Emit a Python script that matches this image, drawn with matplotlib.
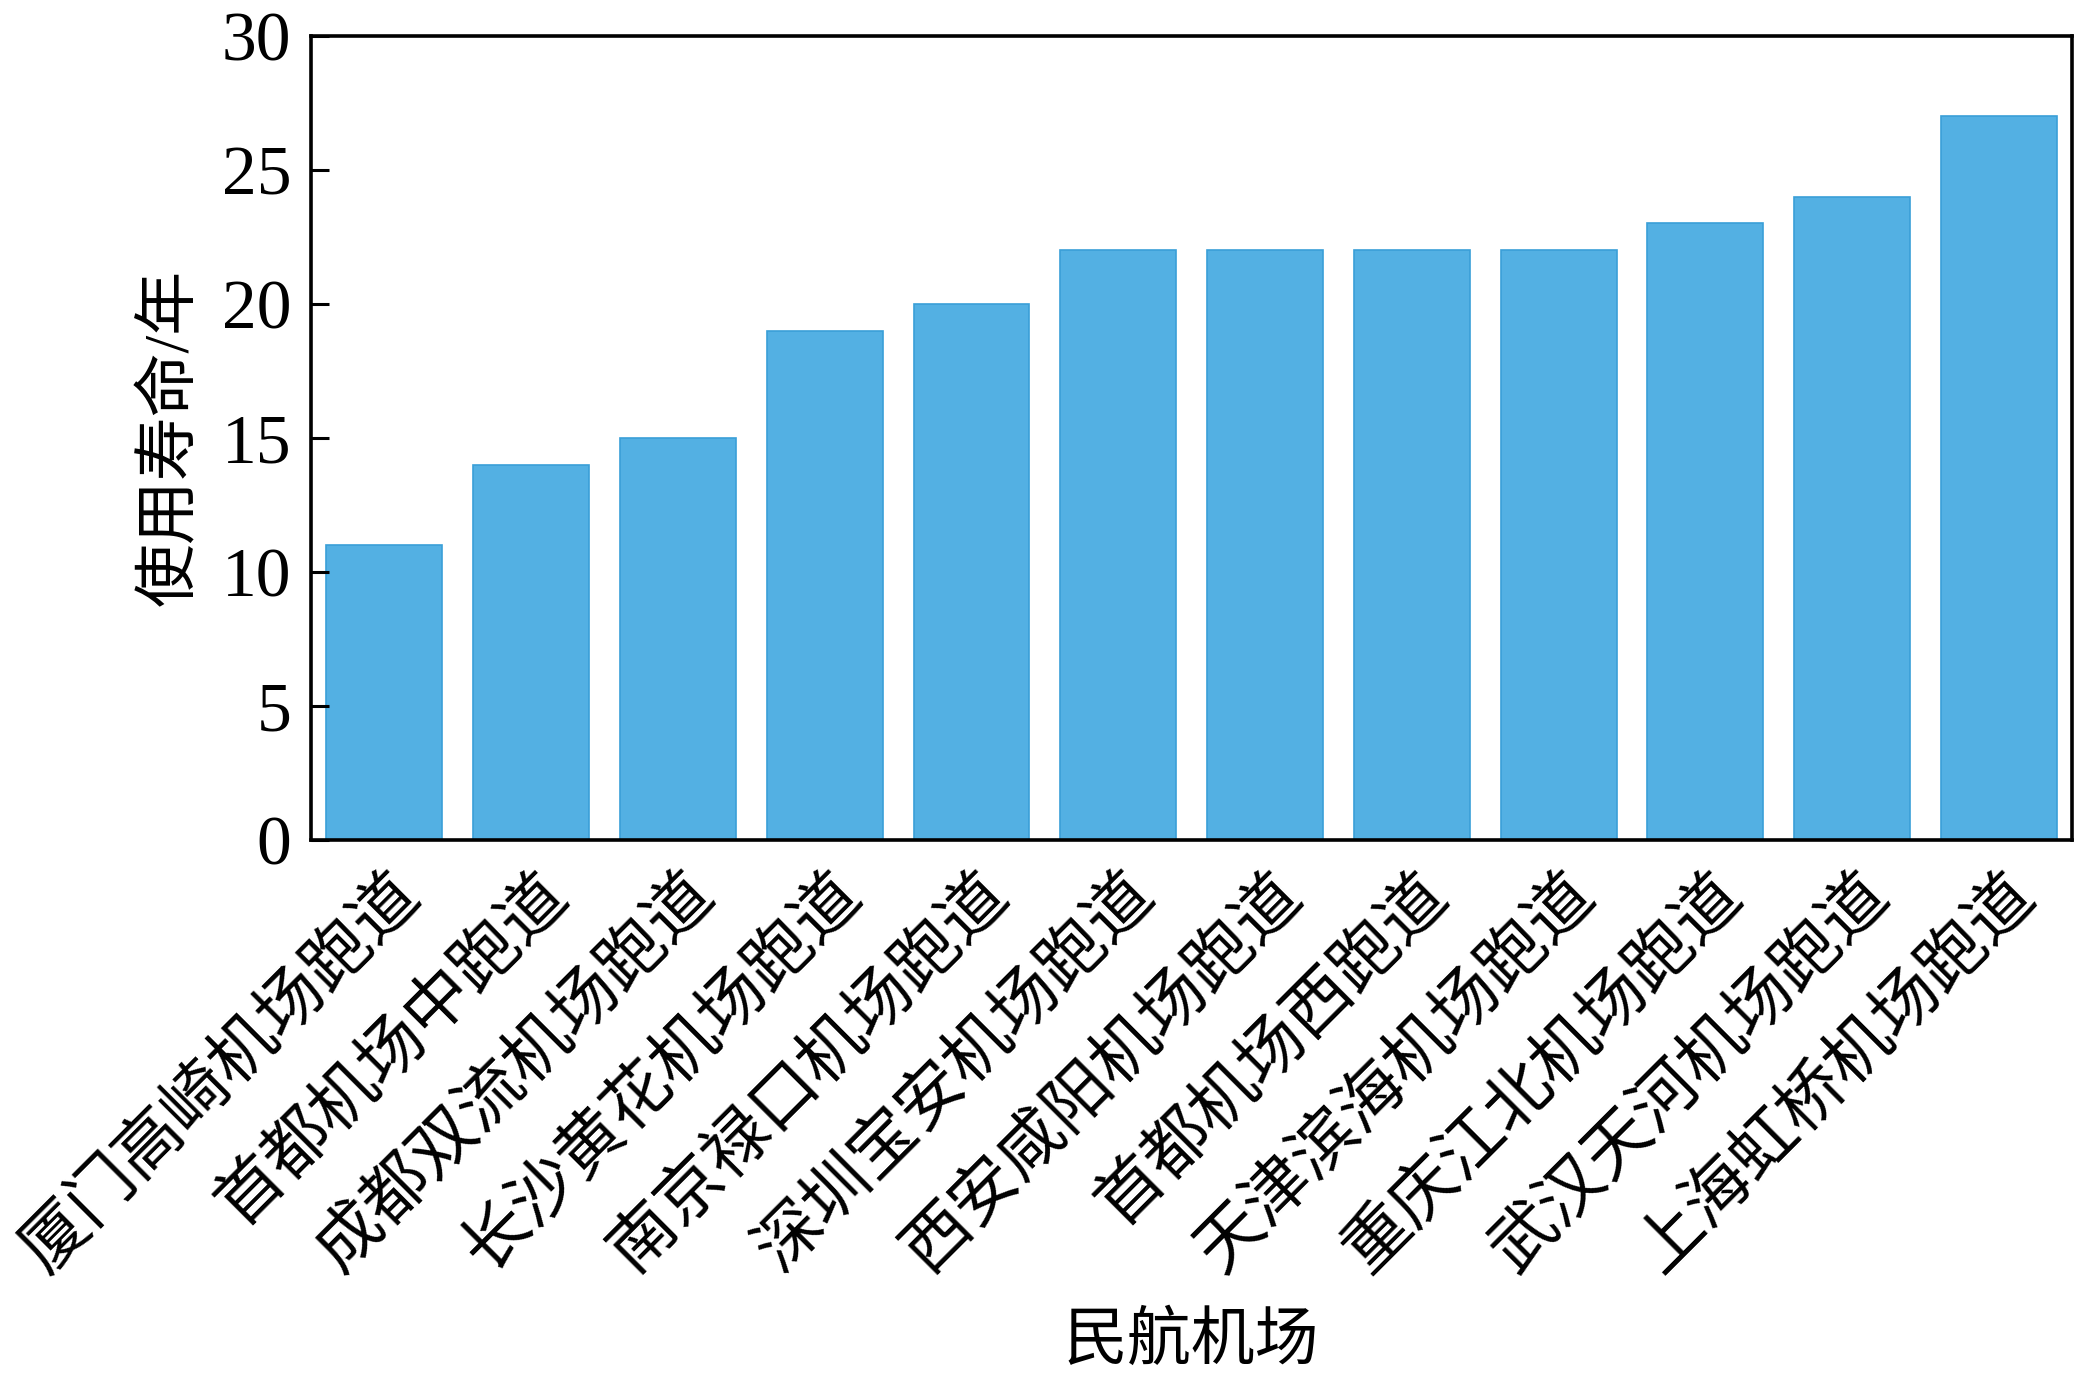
import matplotlib
matplotlib.use("Agg")
from matplotlib import pyplot as plt
from matplotlib.transforms import ScaledTranslation

# 数据
airports = ["厦门高崎机场跑道", "首都机场中跑道", "成都双流机场跑道", "长沙黄花机场跑道",
            "南京禄口机场跑道", "深圳宝安机场跑道", "西安咸阳机场跑道", "首都机场西跑道",
            "天津滨海机场跑道", "重庆江北机场跑道", "武汉天河机场跑道", "上海虹桥机场跑道"]
life_years = [11, 14, 15, 19, 20, 22, 22, 22, 22, 23, 24, 27]
yticks = [0, 5, 10, 15, 20, 25, 30]

plt.rcParams['font.family'] = ['Liberation Serif', 'Noto Sans CJK SC']

fig = plt.figure(figsize=(20.87, 13.76), dpi=100)
ax = fig.add_axes([0.149, 0.3895, 0.844, 0.5845])

x = list(range(len(airports)))
ax.bar(x, life_years, width=0.79, color='#53B0E3', edgecolor='#3A9FD8', linewidth=1.2)

ax.set_xlim(-0.5, len(airports) - 0.5)
ax.set_ylim(0, 30)
ax.set_yticks(yticks)
ax.set_yticklabels([str(v) for v in yticks], fontsize=50)
ax.tick_params(axis='y', direction='in', length=13, width=2.2, pad=14)
ax.tick_params(axis='x', length=0, pad=26)
ax.set_xticks(x)
ax.set_xticklabels(airports, fontsize=48, rotation=45, ha='right', va='center',
                   rotation_mode='anchor')
# 标签整体右移、下移一点
shift = ScaledTranslation(0.27, -0.09, fig.dpi_scale_trans)
for lab in ax.get_xticklabels():
    lab.set_transform(lab.get_transform() + shift)
for s in ax.spines.values():
    s.set_linewidth(2.6)

ax.set_ylabel("使用寿命/年", fontsize=46, labelpad=14)
ax.set_xlabel("民航机场", fontsize=46, labelpad=20)

fig.savefig("out.png", dpi=100)
